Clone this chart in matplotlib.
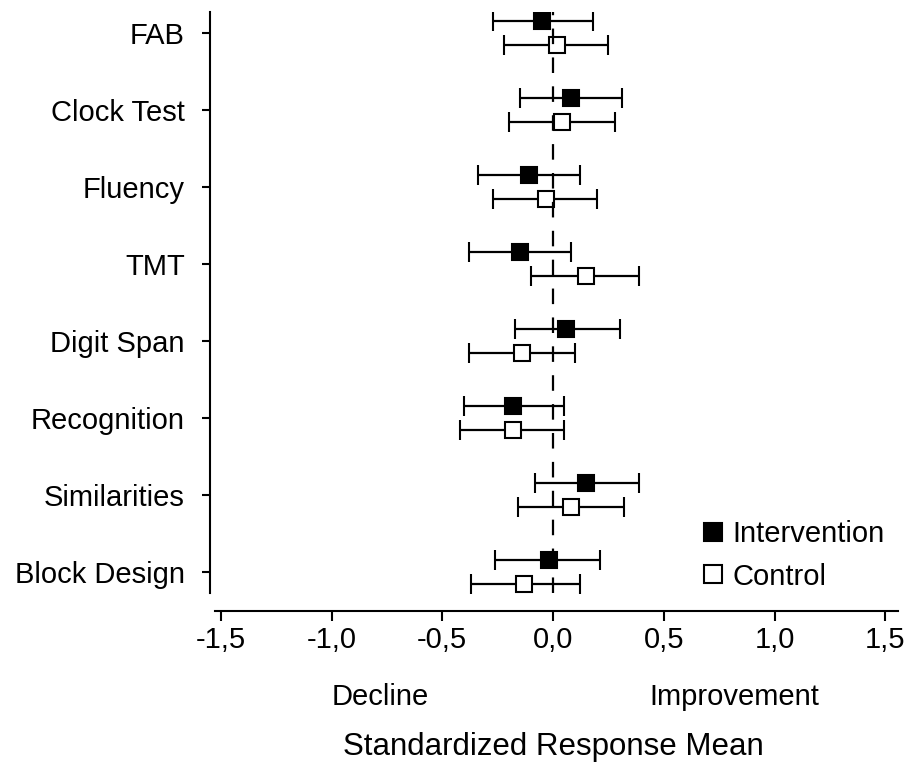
import matplotlib
matplotlib.use("Agg")
import matplotlib.pyplot as plt
import numpy as np

plt.rcParams['font.family'] = ['Liberation Sans', 'DejaVu Sans']

# Data (standardized response mean with CI)
categories = ["FAB", "Clock Test", "Fluency", "TMT", "Digit Span",
              "Recognition", "Similarities", "Block Design"]
int_mean = [-0.05, 0.08, -0.11, -0.15, 0.06, -0.18, 0.15, -0.02]
int_low = [-0.27, -0.15, -0.34, -0.38, -0.17, -0.40, -0.08, -0.26]
int_high = [0.18, 0.31, 0.12, 0.08, 0.30, 0.05, 0.39, 0.21]
ctl_mean = [0.02, 0.04, -0.03, 0.15, -0.14, -0.18, 0.08, -0.13]
ctl_low = [-0.22, -0.20, -0.27, -0.10, -0.38, -0.42, -0.16, -0.37]
ctl_high = [0.25, 0.28, 0.20, 0.39, 0.10, 0.05, 0.32, 0.12]
xticks = [-1.5, -1.0, -0.5, 0.0, 0.5, 1.0, 1.5]

FS = 21

fig = plt.figure(figsize=(9.09, 7.71), dpi=100)
ax = fig.add_axes([215 / 909, 1 - 593 / 771, (898 - 215) / 909, (593 - 12) / 771])

n = len(categories)
y = np.arange(n)[::-1]  # FAB on top
off = 0.15

int_mean = np.array(int_mean)
ctl_mean = np.array(ctl_mean)
int_err = [int_mean - np.array(int_low), np.array(int_high) - int_mean]
ctl_err = [ctl_mean - np.array(ctl_low), np.array(ctl_high) - ctl_mean]

# zero line
ax.axvline(0, color='black', lw=1.6, dashes=(7, 6), zorder=4)

ax.errorbar(int_mean, y + off, xerr=int_err, fmt='s', color='black', ecolor='black',
            mfc='black', mec='black', ms=11, mew=1.5, elinewidth=1.6,
            capsize=7, capthick=1.6, zorder=3, label='Intervention')
ax.errorbar(ctl_mean, y - off, xerr=ctl_err, fmt='s', color='black', ecolor='black',
            mfc='white', mec='black', ms=11, mew=1.5, elinewidth=1.6,
            capsize=7, capthick=1.6, zorder=3, label='Control')

ax.set_xlim(-1.526, 1.557)
ax.set_ylim(-0.273, n - 1 + 0.273)

# spines first (moving them resets the ticks)
ax.spines['top'].set_visible(False)
ax.spines['right'].set_visible(False)
ax.spines['left'].set_position(('outward', 3.6))
ax.spines['bottom'].set_position(('outward', 13))
for s in ['left', 'bottom']:
    ax.spines[s].set_linewidth(1.5)

ax.set_yticks(y)
ax.set_yticklabels(categories)
ax.set_xticks(xticks)
ax.set_xticklabels([f"{v:.1f}".replace('.', ',') for v in xticks])
ax.tick_params(axis='y', length=6, width=1.5, pad=12, labelsize=FS)
ax.tick_params(axis='x', length=7, width=1.5, pad=4, labelsize=FS)

# direction labels under the axis
ax.annotate("Decline", xy=(-0.78, 0), xycoords=('data', 'axes fraction'),
            xytext=(0, -75), textcoords='offset points',
            ha='center', va='center', fontsize=FS)
ax.annotate("Improvement", xy=(0.82, 0), xycoords=('data', 'axes fraction'),
            xytext=(0, -75), textcoords='offset points',
            ha='center', va='center', fontsize=FS)
ax.annotate("Standardized Response Mean", xy=(0.0, 0), xycoords=('data', 'axes fraction'),
            xytext=(0, -111), textcoords='offset points',
            ha='center', va='center', fontsize=FS + 1.5)

handles, labels = ax.get_legend_handles_labels()
ax.legend([h[0] for h in handles], labels, loc='upper left',
          bbox_to_anchor=(703 / 909, 1 - 520 / 771), bbox_transform=fig.transFigure,
          frameon=False, fontsize=FS, handlelength=0.7, handletextpad=0.3,
          borderpad=0, borderaxespad=0, labelspacing=0.5, markerscale=1.2)

plt.savefig("out.png", dpi=100)
